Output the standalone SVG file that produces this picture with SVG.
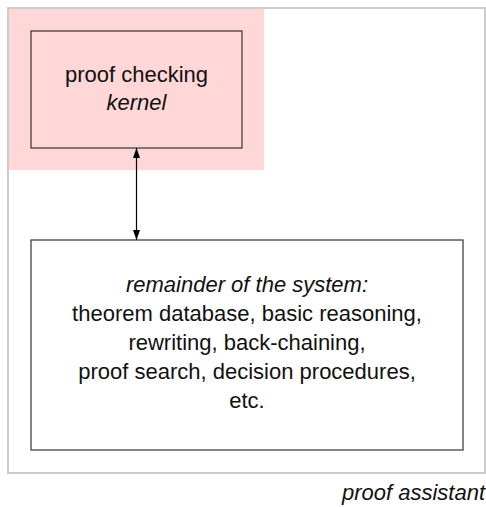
<svg xmlns="http://www.w3.org/2000/svg" width="486" height="507" viewBox="0 0 486 507">
<style>
.box{fill:none;stroke:#333;stroke-width:1.2}
.t{font-family:"Liberation Sans",Arial,sans-serif;font-size:22px;fill:#111;text-anchor:middle}
.i{font-style:italic}
</style>
<defs>
<marker id="ah" viewBox="0 0 10 10" refX="10" refY="5" markerWidth="10" markerHeight="10" markerUnits="userSpaceOnUse" orient="auto-start-reverse">
<path d="M0,1.5 L10,5 L0,8.5 Z" fill="#000"/>
</marker>
</defs>
<g id="assistant">
<rect x="8" y="8" width="477" height="465" fill="#fff" stroke="#ccc" stroke-width="2"/>
<text class="t i" x="485" y="500" style="text-anchor:end">proof assistant</text>
</g>
<g id="kernel">
<rect x="9" y="9" width="255" height="161" fill="#ffd7d7"/>
<rect class="box" x="31" y="31" width="211" height="117" style="fill:#ffd7d7"/>
<text class="t" x="136.5" y="82">proof checking</text>
<text class="t i" x="136.5" y="110">kernel</text>
</g>
<g id="remainder">
<rect class="box" x="31" y="240" width="432" height="210" style="fill:#fff"/>
<text class="t i" x="247" y="292">remainder of the system:</text>
<text class="t" x="247" y="321">theorem database, basic reasoning,</text>
<text class="t" x="247" y="350">rewriting, back-chaining,</text>
<text class="t" x="247" y="379">proof search, decision procedures,</text>
<text class="t" x="247" y="408">etc.</text>
</g>
<g id="connectors">
<line x1="136.5" y1="148" x2="136.5" y2="240" stroke="#000" stroke-width="1.2" marker-start="url(#ah)" marker-end="url(#ah)"/>
</g>
</svg>
